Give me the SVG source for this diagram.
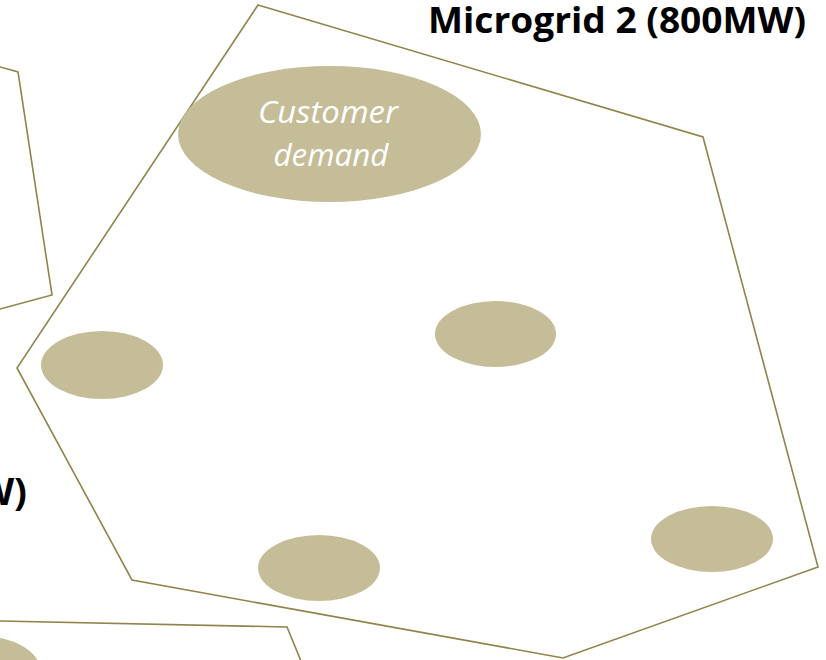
<svg xmlns="http://www.w3.org/2000/svg" width="826" height="660" viewBox="0 0 826 660">
  <style>
    .grid { fill: none; stroke: #8F8449; stroke-width: 1.6; stroke-linejoin: miter; }
    .node { fill: #C5BD98; }
    .title { font-family: "Open Sans", "Liberation Sans", sans-serif; font-weight: bold; fill: #000000; }
    .label { font-family: "Open Sans", "Liberation Sans", sans-serif; font-style: italic; fill: #FFFFFF; text-anchor: middle; }
  </style>
  <rect width="826" height="660" fill="#FFFFFF"/>

  <g id="connectors">
    <!-- microgrid boundaries -->
    <polyline id="microgrid-1-boundary" class="grid" points="0,67 18,72 52,295 0,309"/>
    <polygon id="microgrid-2-boundary" class="grid" points="258,5 703,137 818,567 563,658 132,580 17,368"/>
    <polyline id="microgrid-3-boundary" class="grid" points="0,621 287,627 301,661"/>
  </g>

  <g id="customer-demand">
    <ellipse class="node" cx="329.5" cy="134" rx="151.5" ry="68"/>
    <text class="label" x="328" y="123" font-size="31" textLength="140" lengthAdjust="spacingAndGlyphs">Customer</text>
    <text class="label" x="331" y="166" font-size="31" textLength="115" lengthAdjust="spacingAndGlyphs">demand</text>
  </g>
  <g id="node-left"><ellipse class="node" cx="102" cy="365" rx="61" ry="34"/></g>
  <g id="node-center"><ellipse class="node" cx="495.5" cy="334" rx="60.5" ry="33"/></g>
  <g id="node-bottom"><ellipse class="node" cx="319" cy="568" rx="61" ry="33"/></g>
  <g id="node-right"><ellipse class="node" cx="712" cy="539" rx="61" ry="33"/></g>
  <g id="node-corner"><ellipse class="node" cx="-20" cy="670" rx="60" ry="34"/></g>

  <g id="titles">
    <text class="title" x="428" y="32.5" font-size="35" textLength="378" lengthAdjust="spacingAndGlyphs">Microgrid 2 (800MW)</text>
    <text class="title" x="27" y="505" font-size="38" text-anchor="end">W)</text>
  </g>
</svg>
